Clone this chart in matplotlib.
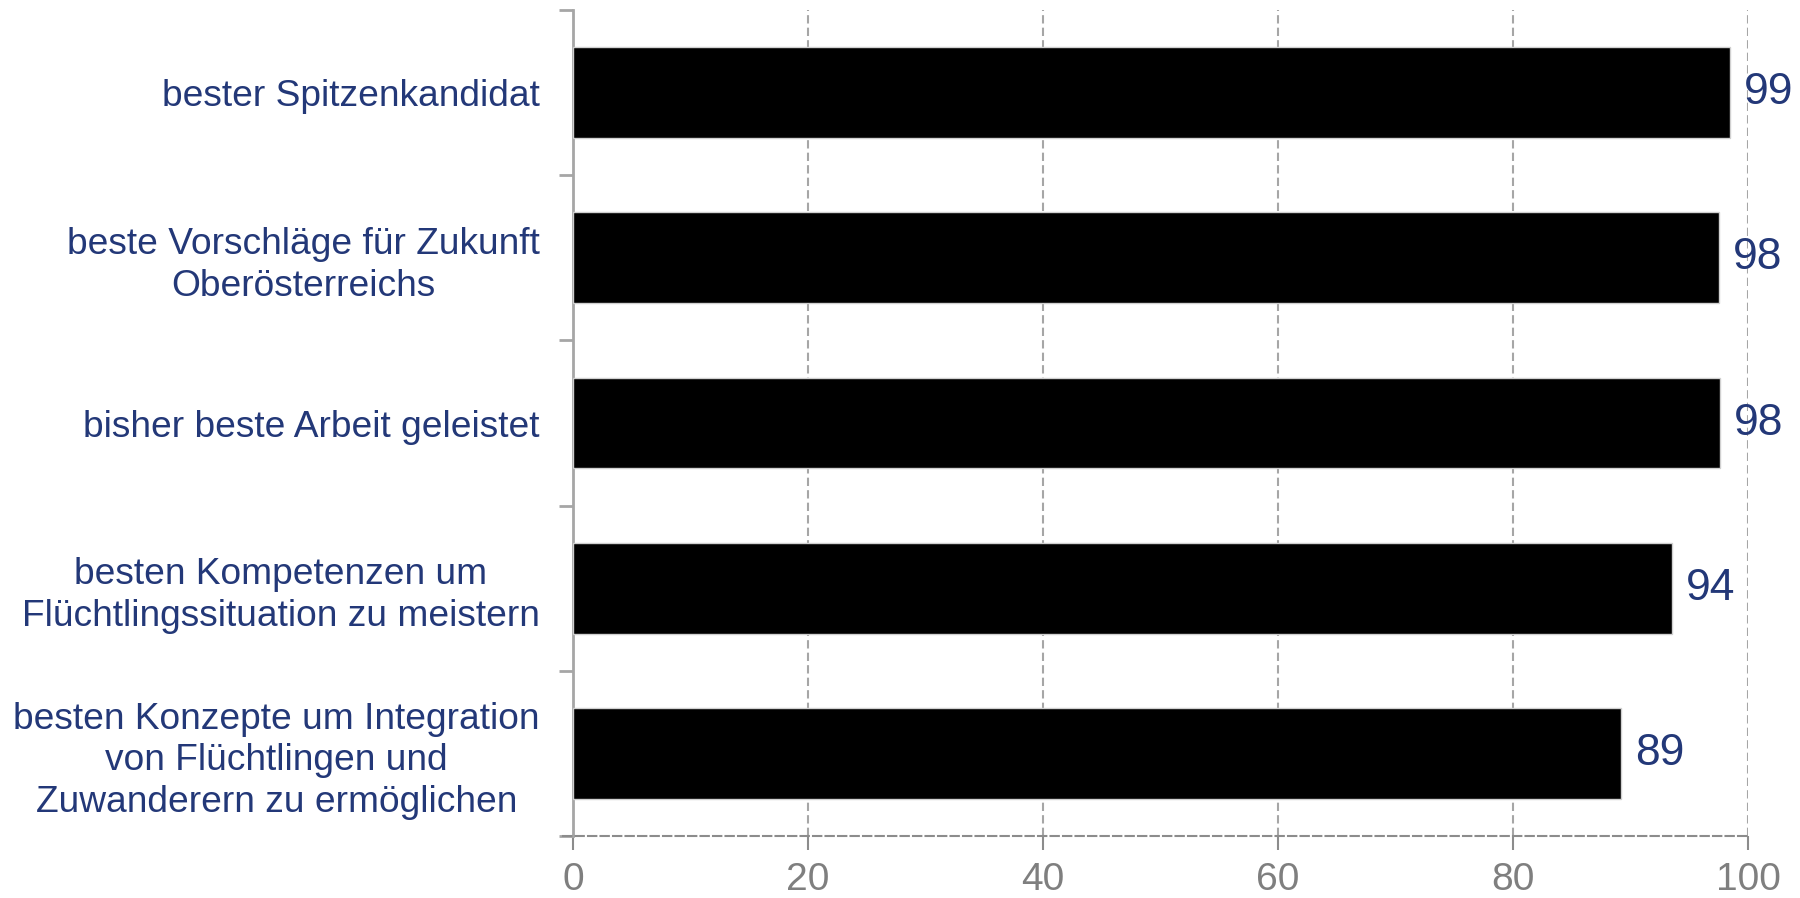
import numpy as np
import matplotlib.pyplot as plt

plt.rcParams['font.family'] = ['Liberation Sans', 'DejaVu Sans']

# data
categories = [
    "bester Spitzenkandidat",
    "beste Vorschläge für Zukunft\nOberösterreichs",
    "bisher beste Arbeit geleistet",
    "besten Kompetenzen um\nFlüchtlingssituation zu meistern",
    "besten Konzepte um Integration\nvon Flüchtlingen und\nZuwanderern zu ermöglichen",
]
values = [98.5, 97.5, 97.6, 93.5, 89.2]
value_labels = ["99", "98", "98", "94", "89"]
x_ticks = [0, 20, 40, 60, 80, 100]

navy = '#233878'
grey = '#8c8c8c'

fig = plt.figure(figsize=(18, 8.98), dpi=100)
ax = fig.add_axes([573 / 1800, 1 - 836 / 898, 1175 / 1800, 826 / 898])

y = np.arange(len(categories))
ax.barh(y, values, height=0.55, color='black', edgecolor='#d0d0d0', linewidth=1, zorder=3)

# value labels to the right of the bars
for yi, v, lab in zip(y, values, value_labels):
    ax.annotate(lab, (v, yi), xytext=(10, 0), textcoords='offset points',
                ha='left', va='center', fontsize=32, color=navy, zorder=4)

ax.set_xlim(0, 100)
ax.set_ylim(len(categories) - 0.5, -0.5)
ax.set_xticks(x_ticks)
ax.set_yticks(np.arange(len(categories) + 1) - 0.5, minor=False)
ax.set_yticklabels([])
ax.set_yticks(y, minor=True)
ax.set_yticklabels(categories, minor=True)

# major y ticks mark the category boundaries, minor ones carry the labels
ax.tick_params(axis='y', which='major', direction='out', length=10, width=2, color='#a6a6a6')
ax.tick_params(axis='y', which='minor', length=0, pad=24, labelsize=26.7, labelcolor=navy)
for lab in ax.get_yticklabels(minor=True):
    lab.set_multialignment('center')
    lab.set_linespacing(1.25)

ax.tick_params(axis='x', direction='out', length=10, width=1.5, color=grey,
               labelsize=28, labelcolor='#7f7f7f', pad=9)

ax.grid(axis='x', linestyle=(0, (4, 2)), color='#a6a6a6', linewidth=1.5, zorder=0)
ax.grid(axis='y', visible=False)

for s in ['top', 'right']:
    ax.spines[s].set_visible(False)
ax.spines['left'].set_color('#a6a6a6')
ax.spines['left'].set_linewidth(2)
ax.spines['bottom'].set_color(grey)
ax.spines['bottom'].set_linewidth(1.5)
ax.spines['bottom'].set_linestyle((0, (4, 2)))
ax.spines['bottom'].set_bounds(-0.85, 100)

fig.savefig('out.png', dpi=100)
